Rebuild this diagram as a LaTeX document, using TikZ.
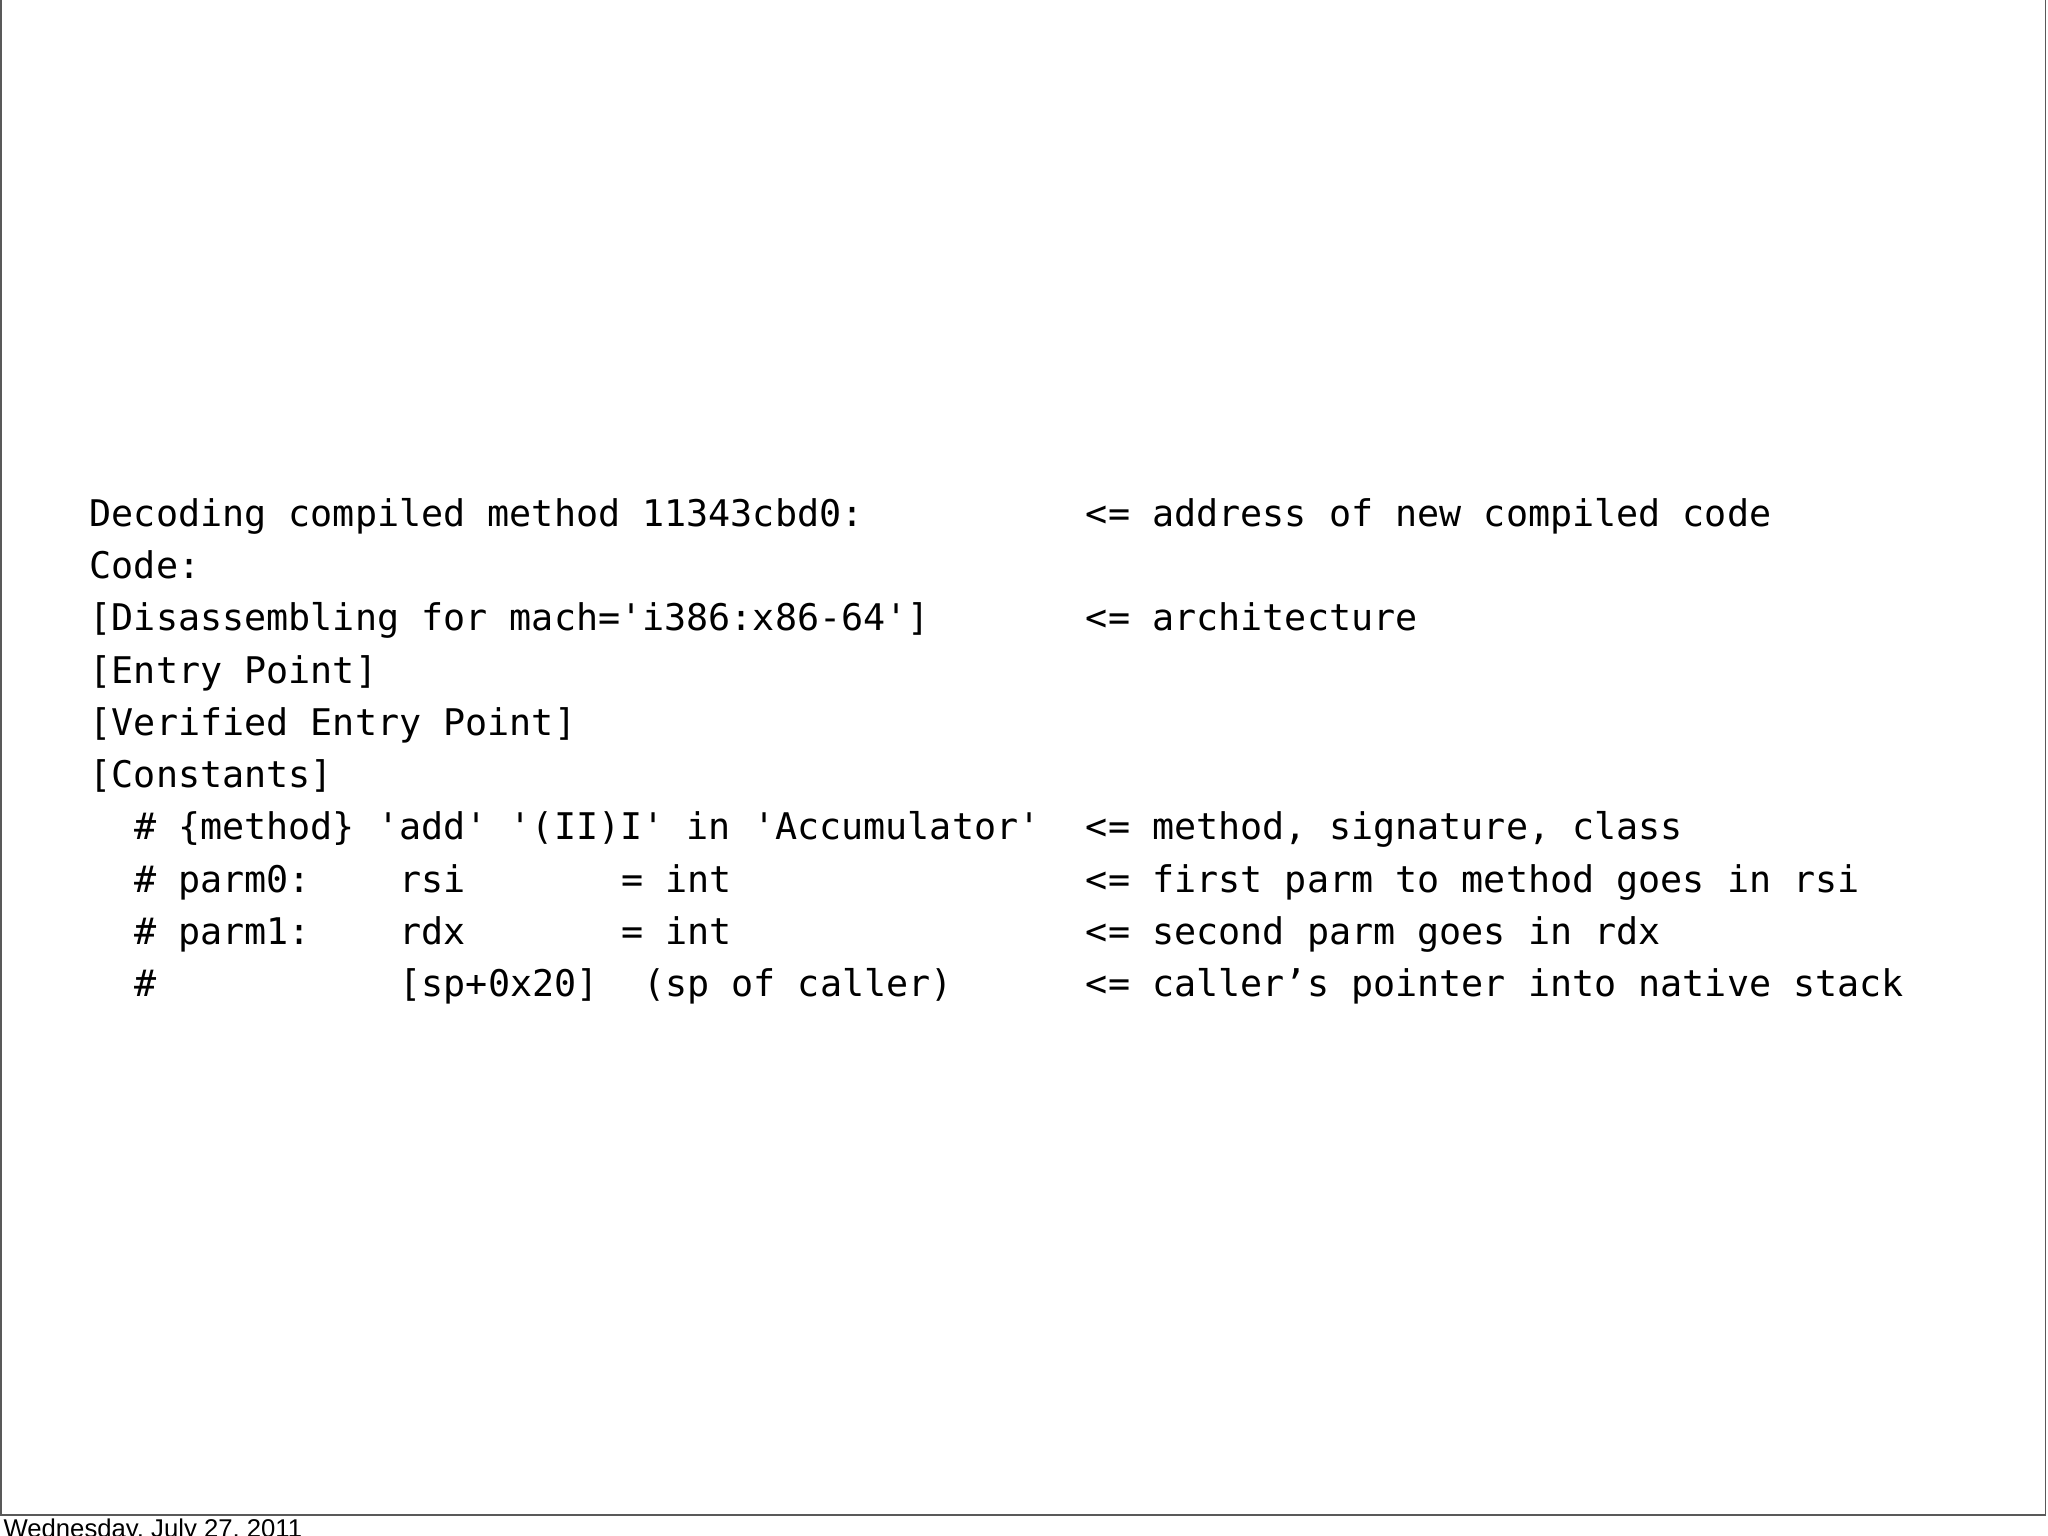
\documentclass[tikz,border=0pt]{standalone}
\usepackage{fontspec}
\setmonofont{DejaVu Sans Mono}
\setsansfont{Liberation Sans}
\begin{document}
\begin{tikzpicture}[x=1cm,y=1cm,
  t/.style={anchor=base west,inner sep=0pt,font=\ttfamily\fontsize{8}{9.6}\selectfont}]
\useasboundingbox (0,0) rectangle (15.68,11.76);
\draw[line width=0.4pt,gray!70!black] (0.005,11.76) -- (0.005,0.16) -- (15.66,0.16) -- (15.66,11.76);
\def\cw{0.1695}
\def\xo{0.68}
\foreach \c/\r/\s [count=\i] in {
 0/0/{Decoding compiled method 11343cbd0:},
 0/1/{Code:},
 0/2/{[Disassembling for mach='i386:x86-64']},
 0/3/{[Entry Point]},
 0/4/{[Verified Entry Point]},
 0/5/{[Constants]},
 2/6/{\# \{method\} 'add' '(II)I' in 'Accumulator'},
 2/7/{\# parm0:},14/7/{rsi},24/7/{= int},
 2/8/{\# parm1:},14/8/{rdx},24/8/{= int},
 2/9/{\#},14/9/{[sp+0x20]},25/9/{(sp of caller)},
 45/0/{<= address of new compiled code},
 45/2/{<= architecture},
 45/6/{<= method, signature, class},
 45/7/{<= first parm to method goes in rsi},
 45/8/{<= second parm goes in rdx},
 45/9/{<= caller’s pointer into native stack}}
 \node[t] (n\i) at ({\xo+\c*\cw},{7.73-0.40*\r}) {\s};
\node[anchor=base west,inner sep=0pt,font=\sffamily\fontsize{5.6}{6}\selectfont] (foot) at (0.02,-0.01) {Wednesday, July 27, 2011};
\end{tikzpicture}
\end{document}
